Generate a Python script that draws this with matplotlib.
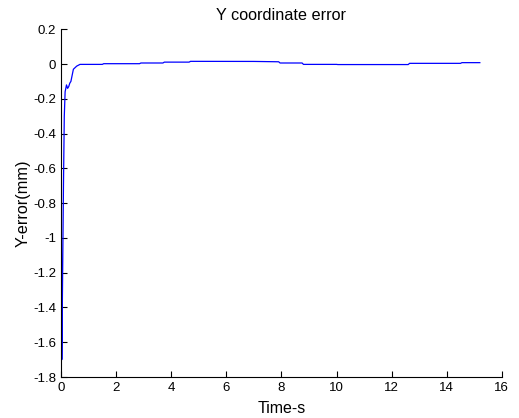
import matplotlib
matplotlib.use("Agg")
import matplotlib.pyplot as plt

t = [0, 0.015, 0.03, 0.06, 0.09, 0.12, 0.15, 0.2, 0.24, 0.28, 0.32, 0.36,
     0.45, 0.57, 0.69, 1.5, 1.55, 2.85, 2.9, 3.7, 3.75, 4.65, 4.7, 7.0,
     7.9, 7.95, 8.75, 8.8, 10.0, 10.05, 12.6, 12.65, 14.5, 14.55, 15.2]
y_err = [0.0, -1.0, -1.7, -1.2, -0.7, -0.3, -0.16, -0.12, -0.14, -0.13, -0.11,
         -0.1, -0.03, -0.012, -0.002, -0.002, 0.002, 0.002, 0.006, 0.006, 0.011,
         0.011, 0.0155, 0.015, 0.013, 0.006, 0.006, -0.002, -0.002, -0.003,
         -0.003, 0.004, 0.004, 0.008, 0.008]

x_ticks = [0, 2, 4, 6, 8, 10, 12, 14, 16]
y_ticks = [-1.8, -1.6, -1.4, -1.2, -1.0, -0.8, -0.6, -0.4, -0.2, 0.0, 0.2]
y_labels = ["-1.8", "-1.6", "-1.4", "-1.2", "-1", "-0.8", "-0.6", "-0.4", "-0.2", "0", "0.2"]

plt.rcParams['font.family'] = ['Liberation Sans', 'DejaVu Sans']
fig = plt.figure(figsize=(5.19, 4.18), dpi=100)
ax = fig.add_axes([0.1175, 0.098, 0.8495, 0.832])
ax.plot(t, y_err, color='#0000ff', linewidth=0.9)
ax.set_xlim(0, 16)
ax.set_ylim(-1.8, 0.2)
ax.set_xticks(x_ticks)
ax.set_xticklabels([str(v) for v in x_ticks])
ax.set_yticks(y_ticks)
ax.set_yticklabels(y_labels)
ax.tick_params(direction='in', labelsize=9.5, length=4, width=0.8, pad=3.5)
for s in ['top', 'right']:
    ax.spines[s].set_visible(False)
for s in ['left', 'bottom']:
    ax.spines[s].set_linewidth(0.8)
ax.set_xlabel('Time-s', fontsize=11.5, labelpad=5)
ax.set_ylabel('Y-error(mm)', fontsize=11.7, labelpad=2)
ax.set_title('Y coordinate error', fontsize=11.7, pad=7)
fig.savefig('out.png', dpi=100)
